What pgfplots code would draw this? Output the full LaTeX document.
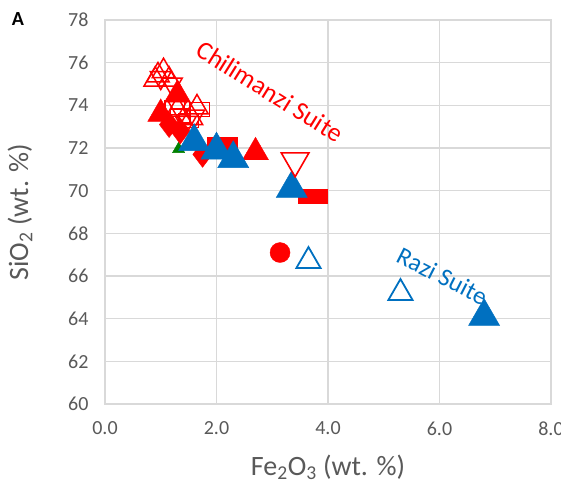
\documentclass[border=0pt]{standalone}
\usepackage{pgfplots}
\pgfplotsset{compat=1.18}
\usepackage{fontspec}
\setmainfont{Carlito}
\definecolor{rred}{HTML}{FF0000}
\definecolor{rblue}{HTML}{0070C0}
\definecolor{gridc}{HTML}{D9D9D9}
\definecolor{txtc}{HTML}{595959}
\begin{document}
\begin{tikzpicture}
\begin{axis}[
  at={(0,0)}, anchor=south west,
  scale only axis, width=446pt, height=384pt,
  xmin=0, xmax=8, ymin=60, ymax=78,
  xtick={0,2,4,6,8}, ytick={60,62,...,78},
  xticklabel style={/pgf/number format/fixed, /pgf/number format/fixed zerofill, /pgf/number format/precision=1, yshift=-14pt},
  /pgf/number format/assume math mode=true,
  tick label style={font=\fontsize{20}{22}\selectfont, text=txtc},
  yticklabel style={xshift=-13pt},
  grid=major, grid style={gridc, line width=1.2pt},
  axis line style={gridc, line width=1.2pt},
  major tick length=0pt,
  xlabel={Fe\textsubscript{2}O\textsubscript{3} (wt. \%)},
  ylabel={SiO\textsubscript{2} (wt. \%)},
  label style={font=\fontsize{28}{30}\selectfont, text=txtc},
  xlabel style={at={(axis description cs:0.5,0)}, anchor=center, yshift=-63pt},
  ylabel style={at={(axis description cs:0,0.5)}, anchor=center, yshift=85pt},
  clip=false,
]
% green (mostly hidden)
\addplot[only marks, mark=triangle*, mark size=7pt, mark options={fill=green!50!black, draw=green!50!black}] coordinates {
 (1.32,71.95)
};
% Chilimanzi open triangles (cluster)
\addplot[only marks, mark=triangle, mark size=13pt, mark options={rred, line width=1.5pt}] coordinates {
 (0.95,75.4) (1.05,75.6) (1.15,75.2) (0.9,75.2) (1.3,73.8) (1.55,73.4) (1.65,73.9)
};
\addplot[only marks, mark=triangle, mark size=12pt, mark options={rred, line width=1.5pt, rotate=180}] coordinates {
 (1.0,75.3) (1.2,75.0) (1.3,74.0) (1.6,73.5) (1.45,73.2)
};
\addplot[only marks, mark=square, mark size=7pt, mark options={rred, line width=1.5pt, xscale=1.4}] coordinates {
 (1.25,73.9) (1.7,73.8) (1.5,73.3) (1.35,73.5)
};
% Chilimanzi filled triangles
\addplot[only marks, mark=triangle*, mark size=15pt, mark options={fill=rred, draw=rred}] coordinates {
 (1.3,74.5) (1.0,73.6) (2.7,71.8)
};
% diamonds
\addplot[only marks, mark=diamond*, mark size=13pt, mark options={fill=rred, draw=rred}] coordinates {
 (1.35,72.8) (1.75,71.7) (1.15,73.1)
};
% rectangles
\addplot[only marks, mark=square*, mark size=7pt, mark options={fill=rred, draw=rred, xscale=2.1}] coordinates {
 (2.1,72.2) (3.73,69.75)
};
% circle
\addplot[only marks, mark=*, mark size=10pt, mark options={fill=rred, draw=rred}] coordinates {
 (3.14,67.1)
};
% Razi filled triangles
\addplot[only marks, mark=triangle*, mark size=18pt, mark options={fill=rblue, draw=rblue}] coordinates {
 (1.6,72.3) (2.0,71.9) (2.3,71.5) (3.35,70.1) (6.8,64.1)
};
% open inverted red triangle
\addplot[only marks, mark=triangle, mark size=16pt, mark options={rred, line width=1.6pt, rotate=180}] coordinates {
 (3.41,71.4)
};
% Razi open triangles
\addplot[only marks, mark=triangle, mark size=14pt, mark options={rblue, line width=1.8pt}] coordinates {
 (3.65,66.7) (5.3,65.2)
};
\node[rotate=-32, text=rred, font=\fontsize{26}{28}\selectfont] at (axis cs:2.96,74.65) {Chilimanzi Suite};
\node[rotate=-27, text=rblue, font=\fontsize{25}{27}\selectfont] at (axis cs:6.05,66.0) {Razi Suite};
\end{axis}
\fill[white] (456pt,-45pt) rectangle (470pt,-10pt);
\node[font=\bfseries\fontsize{20}{22}\selectfont, anchor=center] at (-87pt,385pt) {A};
\pgfresetboundingbox
\path[use as bounding box] (-105pt,-87pt) rectangle (463pt,404pt);
\end{tikzpicture}
\end{document}
